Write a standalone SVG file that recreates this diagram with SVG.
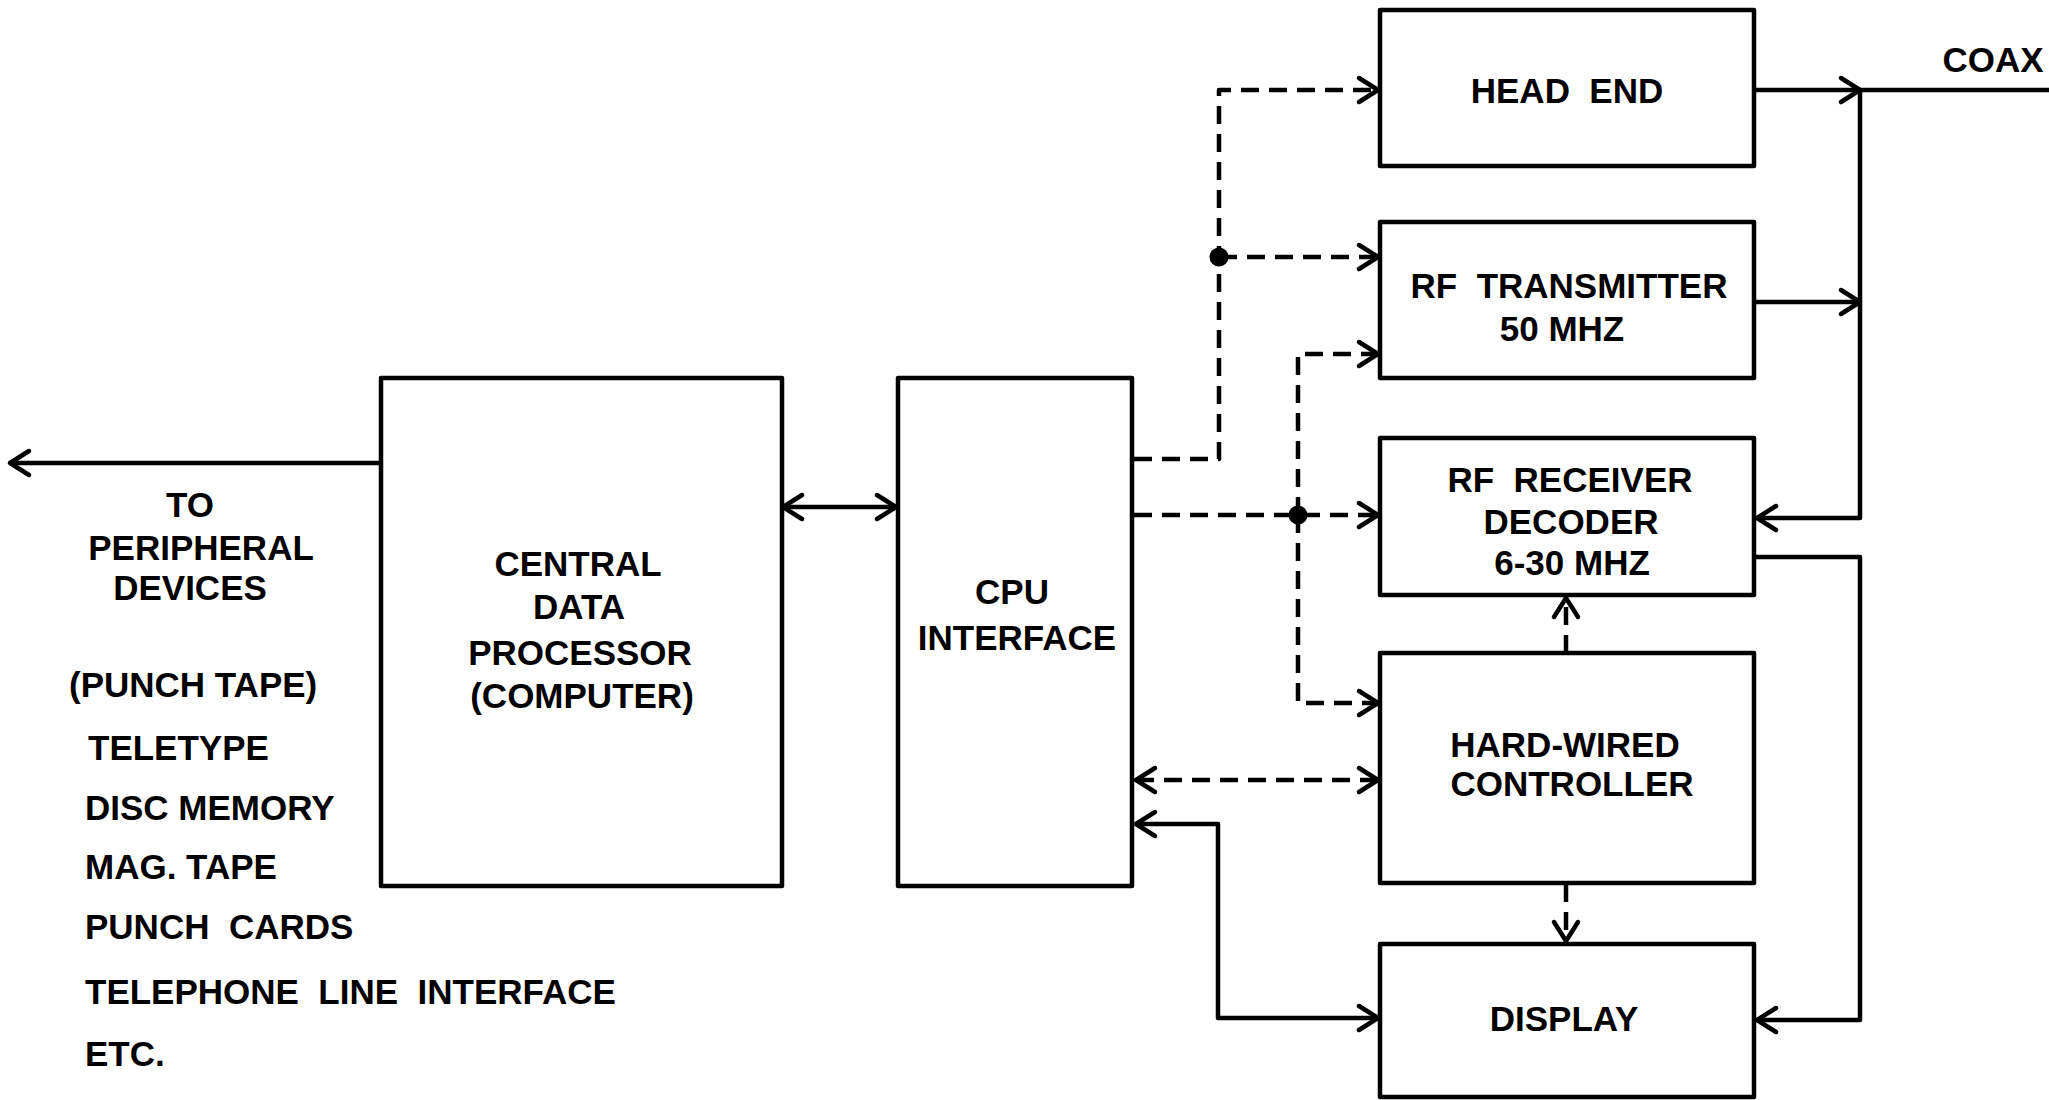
<svg xmlns="http://www.w3.org/2000/svg" width="2049" height="1100" viewBox="0 0 2049 1100">
<style>
.box{fill:none;stroke:#000;stroke-width:4.5;stroke-linejoin:round}
.ln{fill:none;stroke:#000;stroke-width:4.5;stroke-linejoin:round}
.ds{stroke-dasharray:18 10}
text{font-family:"Liberation Sans",Arial,sans-serif;font-weight:bold;font-size:35px;fill:#000;white-space:pre}
.c{text-anchor:middle}
</style>
<defs>
<marker id="ah" markerUnits="userSpaceOnUse" markerWidth="32" markerHeight="34" viewBox="-26 -17 30 34" refX="0" refY="0" orient="auto-start-reverse">
<path d="M-19,-12 L0,0 L-19,12" fill="none" stroke="#000" stroke-width="4.5" stroke-linecap="round" stroke-linejoin="round"/>
</marker>
</defs>
<rect width="2049" height="1100" fill="#fff"/>

<g id="connectors">
<path class="ln" d="M380,463 H10" marker-end="url(#ah)"/>
<path class="ln" d="M783,507 H896" marker-start="url(#ah)" marker-end="url(#ah)"/>
<path class="ln ds" d="M1134,459 H1219 V90 H1378" marker-end="url(#ah)"/>
<path class="ln ds" d="M1219,257 H1378" marker-end="url(#ah)"/>
<path class="ln ds" d="M1134,515 H1378" marker-end="url(#ah)"/>
<path class="ln ds" d="M1298,515 V354 H1378" marker-end="url(#ah)"/>
<path class="ln ds" d="M1298,515 V703 H1378" marker-end="url(#ah)"/>
<path class="ln ds" d="M1136,780 H1378" marker-start="url(#ah)" marker-end="url(#ah)"/>
<path class="ln" d="M1378,1018 H1218 V824 H1136" marker-start="url(#ah)" marker-end="url(#ah)"/>
<path class="ln ds" d="M1566,653 V598" marker-end="url(#ah)"/>
<path class="ln ds" d="M1566,884 V941" marker-end="url(#ah)"/>
<path class="ln" d="M1754,90 H1860" marker-end="url(#ah)"/>
<path class="ln" d="M1860,90 H2049"/>
<path class="ln" d="M1860,90 V518 H1757" marker-end="url(#ah)"/>
<path class="ln" d="M1754,302 H1860" marker-end="url(#ah)"/>
<path class="ln" d="M1754,557 H1860 V1020 H1757" marker-end="url(#ah)"/>
<circle cx="1219" cy="257" r="9.5" fill="#000"/>
<circle cx="1298" cy="515" r="9.5" fill="#000"/>
</g>

<g id="peripherals">
<text class="c" x="190" y="517">TO</text>
<text class="c" x="201" y="560">PERIPHERAL</text>
<text class="c" x="190" y="600">DEVICES</text>
<text x="69" y="697" xml:space="preserve">(PUNCH TAPE)</text>
<text x="88" y="760">TELETYPE</text>
<text x="85" y="820" xml:space="preserve">DISC MEMORY</text>
<text x="85" y="879" xml:space="preserve">MAG. TAPE</text>
<text x="85" y="939" xml:space="preserve">PUNCH  CARDS</text>
<text x="85" y="1004" xml:space="preserve">TELEPHONE  LINE  INTERFACE</text>
<text x="85" y="1066">ETC.</text>
</g>

<g id="cdp">
<rect class="box" x="381" y="378" width="401" height="508"/>
<text class="c" x="578" y="576">CENTRAL</text>
<text class="c" x="579" y="619">DATA</text>
<text class="c" x="580" y="665">PROCESSOR</text>
<text class="c" x="582" y="708">(COMPUTER)</text>
</g>

<g id="cpu">
<rect class="box" x="898" y="378" width="234" height="508"/>
<text class="c" x="1012" y="604">CPU</text>
<text class="c" x="1017" y="650">INTERFACE</text>
</g>

<g id="headend">
<rect class="box" x="1380" y="10" width="374" height="156"/>
<text class="c" x="1567" y="103" xml:space="preserve">HEAD  END</text>
</g>

<g id="rftx">
<rect class="box" x="1380" y="222" width="374" height="156"/>
<text class="c" x="1569" y="298" xml:space="preserve">RF  TRANSMITTER</text>
<text class="c" x="1562" y="341" xml:space="preserve">50 MHZ</text>
</g>

<g id="rfrx">
<rect class="box" x="1380" y="438" width="374" height="157"/>
<text class="c" x="1570" y="492" xml:space="preserve">RF  RECEIVER</text>
<text class="c" x="1571" y="534">DECODER</text>
<text class="c" x="1572" y="575" xml:space="preserve">6-30 MHZ</text>
</g>

<g id="hwc">
<rect class="box" x="1380" y="653" width="374" height="230"/>
<text class="c" x="1565" y="757">HARD-WIRED</text>
<text class="c" x="1572" y="796">CONTROLLER</text>
</g>

<g id="display">
<rect class="box" x="1380" y="944" width="374" height="153"/>
<text class="c" x="1564" y="1031">DISPLAY</text>
</g>

<g id="coax">
<text class="c" x="1993" y="72">COAX</text>
</g>
</svg>
